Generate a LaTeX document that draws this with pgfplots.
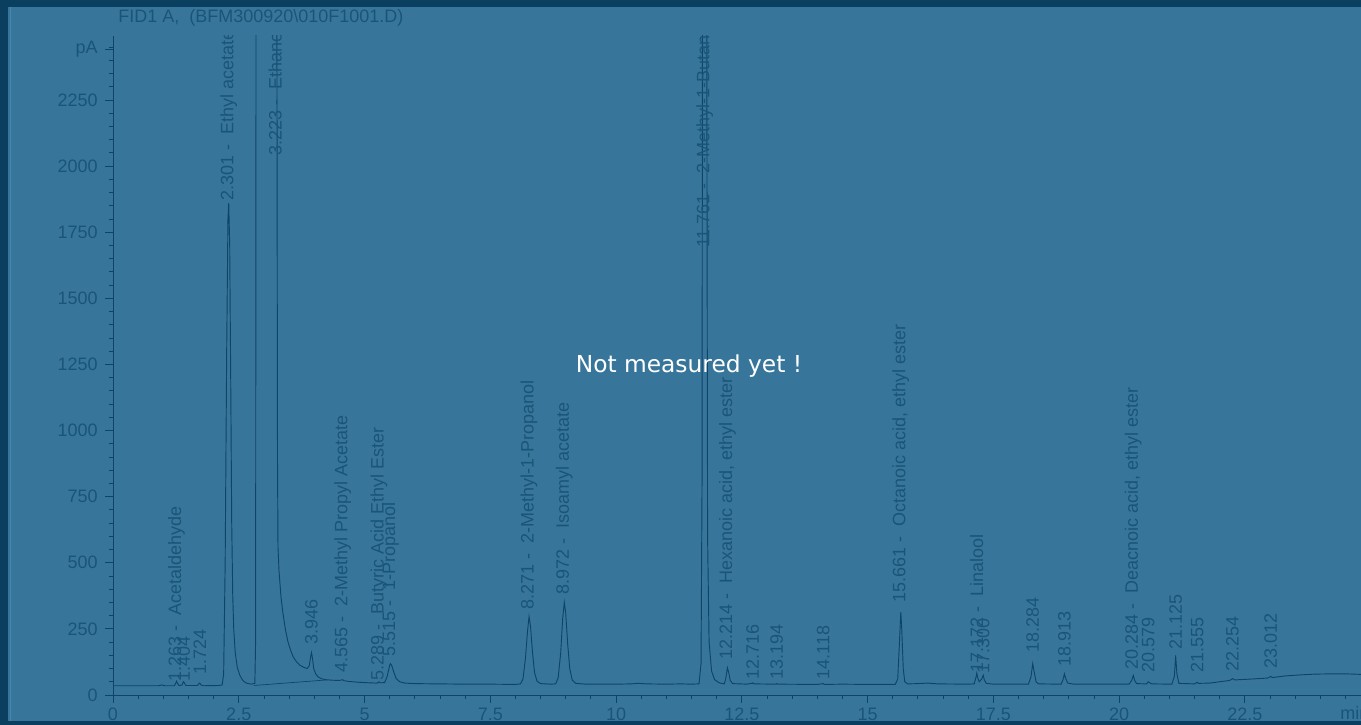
\documentclass[border=0pt]{standalone}
\usepackage{fontspec}
\setmainfont{Liberation Sans}
\newfontfamily\dejavu{DejaVu Sans}
\usepackage{pgfplots}
\pgfplotsset{compat=1.18}
\definecolor{bg}{RGB}{55,118,154}
\definecolor{dk}{RGB}{11,63,96}
\definecolor{tx}{RGB}{27,84,121}
\definecolor{ln}{RGB}{14,68,104}
\definecolor{lt}{RGB}{72,135,170}

\pgfplotstableread{
t s
0.00 35
0.50 35
0.90 35
0.97 38
1.03 35
1.22 35
1.25 46
1.263 52
1.28 45
1.31 36
1.37 37
1.39 47
1.404 50
1.42 45
1.45 36
1.68 36
1.71 43
1.724 45
1.75 38
1.80 35
2.10 36
2.17 38
2.20 80
2.23 500
2.26 1300
2.285 1800
2.301 1860
2.32 1700
2.34 1200
2.36 650
2.38 380
2.40 250
2.43 160
2.47 105
2.52 75
2.58 55
2.65 45
2.75 41
2.82 44
2.835 200
2.845 3000
3.255 3000
3.27 900
3.28 560
3.30 470
3.34 370
3.38 307
3.43 245
3.48 200
3.53 170
3.58 145
3.65 125
3.72 112
3.80 104
3.86 100
3.90 110
3.93 145
3.946 160
3.965 140
3.99 100
4.03 80
4.08 68
4.14 62
4.22 58
4.35 56
4.50 55
4.55 57
4.565 58
4.59 54
4.70 51
4.90 48
5.10 46
5.25 45
5.28 49
5.289 50
5.31 46
5.40 47
5.45 70
5.50 112
5.515 118
5.54 112
5.58 88
5.63 62
5.70 50
5.80 45
6.00 43
6.50 42
7.00 41
7.50 41
8.00 40
8.10 42
8.15 60
8.20 140
8.24 240
8.271 297
8.30 260
8.34 160
8.38 85
8.43 52
8.50 43
8.70 41
8.80 42
8.85 65
8.90 160
8.94 290
8.972 350
9.00 310
9.04 190
9.08 100
9.13 56
9.20 44
9.40 41
10.00 41
10.30 42
10.45 44
10.60 42
11.00 41
11.30 42
11.50 41
11.65 42
11.69 120
11.71 800
11.72 3000
11.80 3000
11.82 600
11.85 200
11.90 90
11.96 58
12.05 46
12.15 42
12.18 60
12.214 103
12.24 85
12.27 55
12.32 43
12.60 41
12.70 44
12.716 46
12.74 42
13.18 41
13.194 43
13.21 41
14.00 40
14.118 43
14.14 40
14.50 41
15.00 40
15.55 40
15.60 60
15.63 180
15.661 313
15.68 250
15.71 100
15.74 50
15.80 42
16.00 43
16.20 45
16.40 42
17.00 41
17.12 42
17.16 70
17.172 83
17.19 65
17.22 50
17.27 60
17.30 75
17.32 58
17.36 44
17.50 41
18.20 41
18.25 70
18.284 119
18.31 90
18.35 50
18.40 42
18.85 41
18.89 60
18.913 80
18.94 62
18.98 45
19.10 41
19.50 41
20.20 41
20.25 55
20.284 74
20.31 55
20.35 43
20.55 42
20.579 50
20.62 45
20.65 42
21.05 41
21.10 70
21.125 150
21.15 80
21.19 44
21.50 42
21.555 48
21.58 44
21.80 45
22.00 50
22.20 55
22.254 62
22.30 57
22.60 60
22.95 64
23.012 70
23.05 66
23.30 72
23.60 76
23.90 79
24.25 80
24.50 80
24.81 78
}\signal

\begin{document}
\begin{tikzpicture}[lbl/.style={rotate=90, anchor=west, inner sep=0pt, text=tx, font=\fontsize{13.5}{16}\selectfont}]
\useasboundingbox (0,0) rectangle (1020.75pt,543.75pt);
\fill[bg] (0,0) rectangle (1020.75pt,543.75pt);
\fill[dk] (0,0) rectangle (6pt,543.75pt);
\fill[dk] (0,538.5pt) rectangle (1020.75pt,543.75pt);
\fill[dk] (0,0) rectangle (1020.75pt,3pt);
\draw[lt, line width=0.6pt] (7.6pt,3pt) -- (7.6pt,538.5pt);

\node[anchor=west, inner sep=0pt, text=tx, font=\fontsize{13.5}{16}\selectfont] at (88.5pt,530.5pt) {FID1 A,~~(BFM300920\textbackslash 010F1001.D)};

\begin{axis}[
  at={(84.75pt,22.5pt)}, anchor=south west,
  scale only axis, width=936pt, height=494.25pt,
  xmin=0, xmax=24.81, ymin=0, ymax=2492,
  axis lines=left,
  axis line style={-, draw=ln, line width=0.6pt},
  xtick={0,2.5,5,7.5,10,12.5,15,17.5,20,22.5},
  xticklabels={0,2.5,5,7.5,10,12.5,15,17.5,20,22.5},
  minor xtick={0,0.5,...,24.5},
  ytick={0,250,500,750,1000,1250,1500,1750,2000,2250},
  yticklabels={0,250,500,750,1000,1250,1500,1750,2000,2250},
  minor ytick={0,50,...,2450},
  extra y ticks={2442}, extra y tick labels={pA},
  tick style={draw=ln, line width=0.6pt},
  major tick length=6pt, minor tick length=3pt,
  tick align=outside,
  ticklabel style={font=\fontsize{13.5}{16}\selectfont, text=tx},
  yticklabel style={xshift=-2pt},
  /pgf/number format/assume math mode=true,
  clip=true,
]
\addplot[ln, line width=0.7pt] table[x=t, y=s] {\signal};
\addplot[ln, line width=0.5pt] coordinates {(2.80,36) (4.25,57)};

\node[lbl] at (axis cs:1.263,50) {1.263 -~~Acetaldehyde};
\node[lbl] at (axis cs:1.404,50) {1.404};
\node[lbl] at (axis cs:1.724,78) {1.724};
\node[lbl] at (axis cs:2.301,1870) {2.301 -~~Ethyl acetate};
\node[lbl] at (axis cs:3.223,2040) {3.223 -~~Ethanol};
\node[lbl] at (axis cs:3.946,190) {3.946};
\node[lbl] at (axis cs:4.565,85) {4.565 -~~2-Methyl Propyl Acetate};
\node[lbl] at (axis cs:5.289,55) {5.289 -~~Butyric Acid Ethyl Ester};
\node[lbl] at (axis cs:5.515,144) {5.515 -~~1-Propanol};
\node[lbl] at (axis cs:8.271,322) {8.271 -~~2-Methyl-1-Propanol};
\node[lbl] at (axis cs:8.972,378) {8.972 -~~Isoamyl acetate};
\node[lbl] at (axis cs:11.761,1690) {11.761 -~~2-Methyl-1-Butanol};
\node[lbl] at (axis cs:12.214,132) {12.214 -~~Hexanoic acid, ethyl ester};
\node[lbl] at (axis cs:12.716,57) {12.716};
\node[lbl] at (axis cs:13.194,57) {13.194};
\node[lbl] at (axis cs:14.118,57) {14.118};
\node[lbl] at (axis cs:15.661,348) {15.661 -~~Octanoic acid, ethyl ester};
\node[lbl] at (axis cs:17.172,83) {17.172 -~~Linalool};
\node[lbl] at (axis cs:17.300,80) {17.300};
\node[lbl] at (axis cs:18.284,159) {18.284};
\node[lbl] at (axis cs:18.913,106) {18.913};
\node[lbl] at (axis cs:20.284,95) {20.284 -~~Deacnoic acid, ethyl ester};
\node[lbl] at (axis cs:20.579,83) {20.579};
\node[lbl] at (axis cs:21.125,170) {21.125};
\node[lbl] at (axis cs:21.555,83) {21.555};
\node[lbl] at (axis cs:22.254,87) {22.254};
\node[lbl] at (axis cs:23.012,98) {23.012};
\end{axis}

\node[anchor=west, inner sep=0pt, text=tx, font=\fontsize{13.5}{16}\selectfont] at (1005pt,9pt) {min};
\node[text=white, font=\dejavu\fontsize{17.5}{20}\selectfont] at (516.75pt,269.25pt) {Not measured yet !};
\end{tikzpicture}
\end{document}
